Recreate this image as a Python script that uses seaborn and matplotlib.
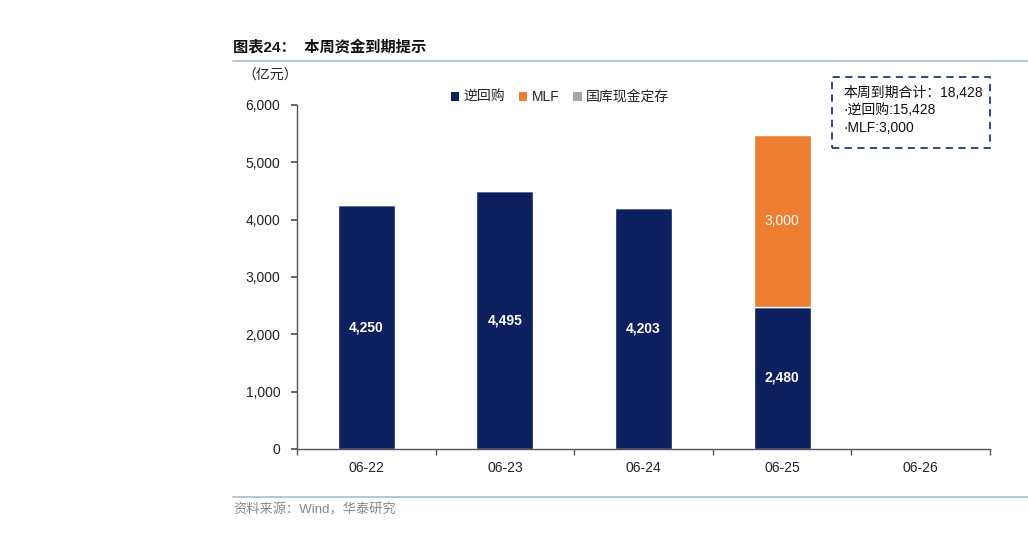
import matplotlib
matplotlib.use("Agg")
import matplotlib.pyplot as plt
import seaborn as sns
import pandas as pd
from matplotlib.patches import Patch, FancyBboxPatch
from matplotlib.lines import Line2D

dates = ["06-22", "06-23", "06-24", "06-25", "06-26"]
repo = [4250, 4495, 4203, 2480, 0]
mlf = [0, 0, 0, 3000, 0]
treasury = [0, 0, 0, 0, 0]
series_names = ["逆回购", "MLF", "国库现金定存"]
yticks = [0, 1000, 2000, 3000, 4000, 5000, 6000]

NAVY = "#0C1F5E"
ORANGE = "#ED7D31"
GREY = "#A5A5A5"

sns.set_theme(style="white")
FAM = ["Liberation Sans", "Noto Sans CJK SC"]
plt.rcParams["font.family"] = FAM
plt.rcParams["axes.unicode_minus"] = False

fig = plt.figure(figsize=(10.28, 5.59), dpi=100)
ax = fig.add_axes([297/1028, 1-449/559, (990-297)/1028, (449-105)/559])

df = pd.DataFrame({"date": dates, "repo": repo, "mlf": mlf, "treasury": treasury})
w = 0.41
sns.barplot(data=df, x="date", y="repo", color=NAVY, width=w, ax=ax, saturation=1)
sns.barplot(data=df, x="date", y="mlf", color=ORANGE, width=w, ax=ax, saturation=1,
            bottom=df["repo"].values)

ax.set_xlim(-0.5, 4.5)
ax.set_ylim(0, 6000)
ax.set_yticks(yticks)
ax.set_yticklabels([f"{v:,}" for v in yticks], fontsize=10, color="#222222")
ax.set_xlabel("")
ax.set_ylabel("")
ax.set_xticks(range(len(dates)))
ax.set_xticklabels(dates, fontsize=10, color="#222222")
ax.tick_params(axis="x", length=0, pad=9)
# minor ticks at category boundaries
ax.set_xticks([i + 0.5 for i in range(-1, len(dates))], minor=True)
ax.tick_params(axis="x", which="minor", length=4, direction="out", color="#555555", bottom=True)
ax.tick_params(axis="y", length=4, direction="out", color="#555555", left=True, pad=8)
for s in ["top", "right"]:
    ax.spines[s].set_visible(False)
for s in ["left", "bottom"]:
    ax.spines[s].set_color("#555555")
    ax.spines[s].set_linewidth(1.0)

# value labels
for i in range(len(dates)):
    if repo[i] > 0:
        ax.text(i, repo[i] / 2, f"{repo[i]:,}", ha="center", va="center",
                color="white", fontsize=10, fontweight="bold")
    if mlf[i] > 0:
        ax.text(i, repo[i] + mlf[i] / 2, f"{mlf[i]:,}", ha="center", va="center",
                color="white", fontsize=10)

# legend
handles = [Patch(facecolor=c, edgecolor="none") for c in (NAVY, ORANGE, GREY)]
leg = ax.legend(handles, series_names, loc="center", bbox_to_anchor=(560/1028, 1-97/559),
                bbox_transform=fig.transFigure, ncol=3, frameon=False, fontsize=10,
                handlelength=0.6, handleheight=0.6, handletextpad=0.3, columnspacing=1.0)

# unit label
fig.text(270/1028, 1-76/559, "（亿元）", ha="center", va="center", fontsize=10, color="#222222")

# title
fig.text(233/1028, 1-48/559, "图表24：  本周资金到期提示", ha="left", va="center",
         fontsize=11, fontweight="bold", color="#111111")
fig.add_artist(Line2D([233/1028, 1.0], [1-61/559, 1-61/559], transform=fig.transFigure,
                      color="#A9BCD0", lw=1.2))
fig.add_artist(Line2D([233/1028, 1.0], [1-497/559, 1-497/559], transform=fig.transFigure,
                      color="#A9BCD0", lw=1.2))
fig.text(233/1028, 1-510/559, "资料来源：Wind，华泰研究", ha="left", va="center",
         fontsize=9.5, color="#888888")

# annotation box
box = FancyBboxPatch((832/1028, 1-148/559), (990-832)/1028, (148-77)/559,
                     boxstyle="square,pad=0", transform=fig.transFigure, fill=False,
                     edgecolor="#1F3A7A", lw=1.3, linestyle=(0, (4, 3)))
fig.add_artist(box)
total = sum(repo) + sum(mlf) + sum(treasury)
lines = [f"本周到期合计：{total:,}", f"·逆回购:{sum(repo):,}", f"·MLF:{sum(mlf):,}"]
for k, t in enumerate(lines):
    fig.text(843/1028, 1-(93 + k * 17.5)/559, t, ha="left", va="center", fontsize=10,
             color="#111111")

fig.savefig("out.png", dpi=100)
